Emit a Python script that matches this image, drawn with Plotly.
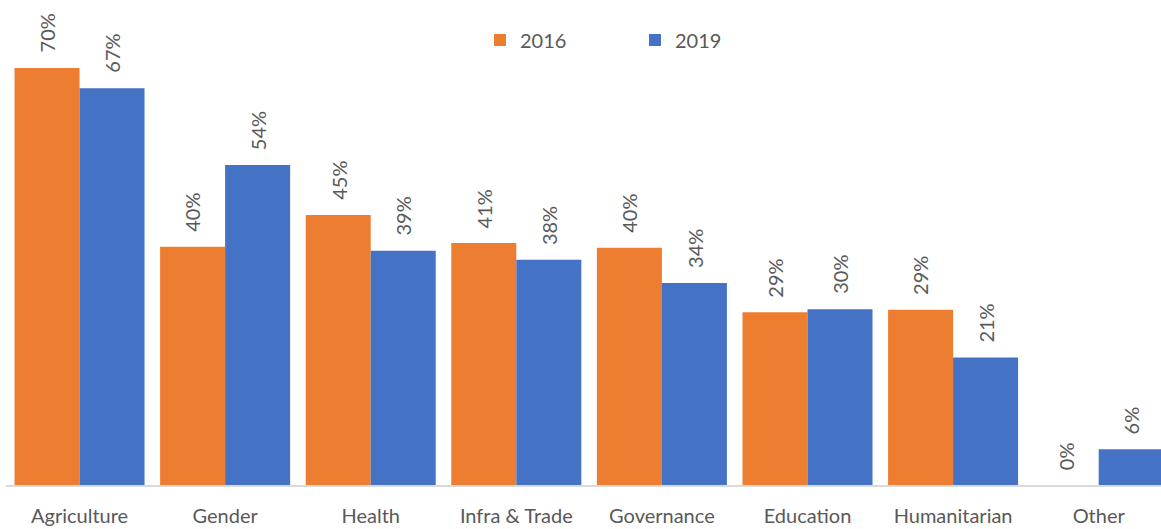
import plotly.graph_objects as go

categories = ["Agriculture", "Gender", "Health", "Infra & Trade", "Governance",
              "Education", "Humanitarian", "Other"]
series_2016 = [70.0, 40.0, 45.3, 40.6, 39.8, 29.0, 29.4, 0.0]
series_2019 = [66.6, 53.7, 39.3, 37.8, 33.9, 29.5, 21.4, 6.0]
series_names = ["2016", "2019"]
colors = ["#ED7D31", "#4472C4"]

FONT = "Lato"
TXT = "#595959"

x_idx = list(range(len(categories)))

fig = go.Figure()
for name, vals, col in zip(series_names, [series_2016, series_2019], colors):
    fig.add_trace(go.Bar(x=x_idx, y=vals, name=name, marker=dict(color=col, line=dict(width=0))))

bargap = 0.107
half = (1 - bargap) / 4  # offset of each bar center from category center
for k, vals in enumerate([series_2016, series_2019]):
    off = -half if k == 0 else half
    for i, v in enumerate(vals):
        fig.add_annotation(x=i + off, y=v, xref="x", yref="y", text=f"{round(v)}%",
                           textangle=-90, showarrow=False, yanchor="bottom", xanchor="center",
                           yshift=13, font=dict(family=FONT, size=20, color=TXT))

fig.update_layout(
    width=1161, height=529,
    margin=dict(l=6, r=0, t=0, b=44),
    paper_bgcolor="white", plot_bgcolor="white",
    barmode="group", bargap=bargap, bargroupgap=0,
    font=dict(family=FONT, size=20, color=TXT),
    legend=dict(orientation="h", x=(480 - 6) / 1155, y=1 - 40 / 485, xanchor="left", yanchor="middle",
                entrywidth=110, entrywidthmode="pixels", font=dict(size=20, color=TXT),
                bgcolor="rgba(0,0,0,0)"),
    xaxis=dict(tickmode="array", tickvals=x_idx, ticktext=categories,
               range=[-0.505, 7.428], showgrid=False, zeroline=False,
               showline=True, linecolor="#D9D9D9", linewidth=2, ticks="",
               ticklabelstandoff=12, tickfont=dict(size=20, color=TXT)),
    yaxis=dict(range=[0, 81.4], visible=False, showgrid=False, zeroline=False),
)

fig.write_html("out.html", config={"displayModeBar": False},
               post_script="document.body.style.margin='0';document.body.style.overflow='hidden';")
